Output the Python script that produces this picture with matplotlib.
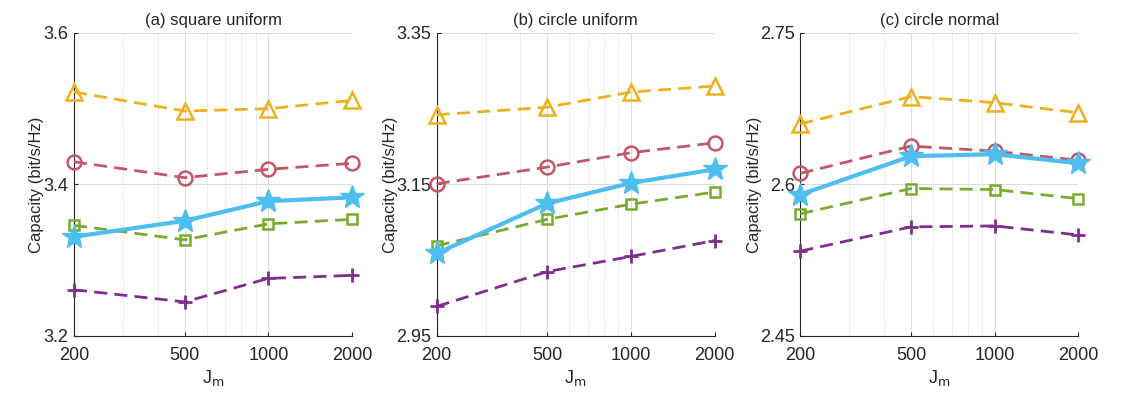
import matplotlib
matplotlib.use('Agg')
import matplotlib.pyplot as plt
from matplotlib.ticker import FixedLocator, NullFormatter

plt.rcParams['font.family'] = ['Liberation Sans', 'DejaVu Sans']

# data
jm = [200, 500, 1000, 2000]
titles = ['(a) square uniform', '(b) circle uniform', '(c) circle normal']
ylims = [(3.2, 3.6), (2.95, 3.35), (2.45, 2.75)]
yticks = [[3.2, 3.4, 3.6], [2.95, 3.15, 3.35], [2.45, 2.6, 2.75]]
ytick_labels = [['3.2', '3.4', '3.6'], ['2.95', '3.15', '3.35'], ['2.45', '2.6', '2.75']]

tri = [[3.522, 3.497, 3.500, 3.511],
       [3.242, 3.252, 3.272, 3.280],
       [2.660, 2.687, 2.681, 2.671]]
circ = [[3.430, 3.409, 3.420, 3.428],
        [3.151, 3.173, 3.192, 3.205],
        [2.611, 2.638, 2.633, 2.624]]
star = [[3.331, 3.352, 3.378, 3.383],
        [3.059, 3.125, 3.152, 3.170],
        [2.590, 2.628, 2.630, 2.621]]
sq = [[3.346, 3.327, 3.348, 3.354],
      [3.069, 3.104, 3.124, 3.140],
      [2.571, 2.596, 2.595, 2.586]]
plus = [[3.261, 3.245, 3.276, 3.280],
        [2.989, 3.035, 3.055, 3.076],
        [2.534, 2.558, 2.559, 2.550]]

c_yellow = '#EDB120'
c_red = '#C4566A'
c_green = '#77AC30'
c_purple = '#7E2F8E'
c_blue = '#4DBEEE'

fig = plt.figure(figsize=(11.33, 3.97), dpi=100)
lefts = [0.0653, 0.3854, 0.7064]
ylabel_x = [-0.108, -0.140, -0.137]
dash = (4.7, 2.6)

for i in range(3):
    ax = fig.add_axes([lefts[i], 0.1537, 0.2454, 0.7632])
    ax.set_xscale('log')
    ax.plot(jm, tri[i], '--', color=c_yellow, lw=2, marker='^', ms=11,
            mfc='none', mew=1.8, dashes=dash, zorder=3)
    ax.plot(jm, circ[i], '--', color=c_red, lw=2, marker='o', ms=10,
            mfc='none', mew=1.8, dashes=dash, zorder=3)
    ax.plot(jm, sq[i], '--', color=c_green, lw=2, marker='s', ms=7,
            mfc='none', mew=1.8, dashes=dash, zorder=3)
    ax.plot(jm, plus[i], '--', color=c_purple, lw=2, marker='+', ms=10,
            mew=2, dashes=dash, zorder=3)
    ax.plot(jm, star[i], '-', color=c_blue, lw=3, marker='*', ms=18,
            zorder=4)

    ax.set_xlim(200, 2000)
    ax.set_ylim(*ylims[i])
    ax.xaxis.set_major_locator(FixedLocator(jm))
    ax.set_xticklabels([str(v) for v in jm])
    ax.xaxis.set_minor_locator(FixedLocator([300, 400, 600, 700, 800, 900]))
    ax.xaxis.set_minor_formatter(NullFormatter())
    ax.set_yticks(yticks[i])
    ax.set_yticklabels(ytick_labels[i])

    ax.grid(True, which='major', color='#dcdcdc', lw=0.8)
    ax.grid(True, which='minor', axis='x', color='#cfcfcf', lw=0.7, ls=':')
    ax.set_axisbelow(True)

    for s in ['top', 'right']:
        ax.spines[s].set_visible(False)
    for s in ['left', 'bottom']:
        ax.spines[s].set_color('#262626')
        ax.spines[s].set_linewidth(0.8)
    ax.tick_params(axis='both', which='major', direction='in', length=3,
                   labelsize=13, colors='#262626')
    ax.tick_params(axis='x', which='major', pad=8)
    ax.tick_params(axis='y', which='major', pad=4)
    ax.tick_params(axis='x', which='minor', length=0)

    ax.set_title(titles[i], fontsize=12, color='#262626', pad=6)
    ax.set_xlabel(r'J$_{\mathrm{m}}$', fontsize=13, color='#262626', labelpad=3)
    ax.set_ylabel('Capacity (bit/s/Hz)', fontsize=12, color='#262626')
    ax.yaxis.set_label_coords(ylabel_x[i], 0.5)
    for ln in ax.lines:
        ln.set_clip_on(False)

fig.savefig('out.png', dpi=100)
